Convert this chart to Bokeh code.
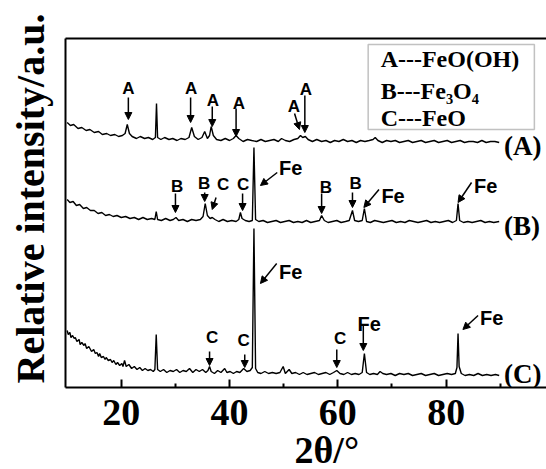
from bokeh.core.properties import value
from bokeh.embed import file_html
from bokeh.models import (Arrow, BoxAnnotation, ColumnDataSource, CustomJSTickFormatter,
                          FixedTicker, Label, LinearAxis, NormalHead, Range1d, Title)
from bokeh.plotting import figure
from bokeh.resources import INLINE

# XRD patterns, (2theta, stacked relative intensity)
trace_a = [
    (10.0, 265), (10.6, 262), (11.2, 263), (12.0, 259), (12.7, 260), (13.5, 257),
    (14.2, 258), (15.0, 255), (15.8, 256), (16.5, 253), (17.3, 254), (18.0, 252),
    (18.8, 253), (19.5, 251), (20.2, 252), (20.7, 254), (21.1, 263), (21.5, 254),
    (22.0, 251), (22.8, 249), (23.5, 251), (24.3, 249), (25.0, 250), (25.8, 248),
    (26.3, 250), (26.5, 284), (26.7, 250), (27.3, 248), (28.0, 250), (28.8, 248),
    (29.5, 249), (30.3, 247), (31.0, 249), (31.8, 248), (32.5, 250), (33.0, 260),
    (33.5, 251), (34.2, 248), (34.9, 250), (35.4, 256), (35.9, 249), (36.3, 252),
    (36.6, 261), (37.0, 252), (37.6, 248), (38.4, 247), (39.2, 249), (40.0, 247),
    (40.7, 249), (41.2, 252), (41.7, 249), (42.5, 246), (43.3, 248), (44.1, 247),
    (45.0, 246), (45.8, 248), (46.6, 246), (47.4, 247), (48.2, 248), (49.0, 246),
    (49.6, 249), (50.3, 247), (51.1, 246), (51.9, 248), (52.6, 249), (53.1, 252),
    (53.5, 250), (54.0, 251), (54.5, 248), (55.3, 246), (56.1, 248), (57.0, 246),
    (57.8, 247), (58.6, 245), (59.4, 247), (60.2, 246), (61.0, 248), (61.8, 246),
    (62.6, 247), (63.4, 245), (64.2, 247), (65.0, 246), (65.8, 247), (66.5, 248),
    (66.9, 250), (67.4, 247), (68.2, 245), (69.0, 247), (69.8, 246), (70.6, 247),
    (71.4, 245), (72.2, 246), (73.0, 247), (73.8, 245), (74.6, 246), (75.4, 247),
    (76.2, 245), (77.0, 246), (77.8, 247), (78.6, 245), (79.4, 246), (80.2, 247),
    (81.0, 245), (81.8, 246), (82.6, 247), (83.4, 245), (84.2, 246), (85.0, 246),
    (85.8, 245), (86.6, 247), (87.4, 245), (88.2, 246), (89.0, 246), (89.8, 245),
]

trace_b = [
    (10.0, 188), (10.5, 185), (11.1, 186), (11.7, 182), (12.3, 183), (13.0, 179),
    (13.6, 180), (14.3, 177), (15.0, 177), (15.7, 174), (16.4, 175), (17.1, 172),
    (17.8, 173), (18.5, 171), (19.2, 172), (20.0, 170), (20.8, 171), (21.6, 169),
    (22.4, 170), (23.2, 168), (24.0, 170), (24.8, 168), (25.6, 169), (26.2, 168),
    (26.45, 176), (26.7, 168), (27.4, 167), (28.2, 169), (29.0, 167), (29.6, 168),
    (30.1, 170), (30.6, 167), (31.4, 168), (32.2, 166), (33.0, 168), (33.8, 167),
    (34.6, 168), (35.1, 171), (35.5, 184), (35.9, 172), (36.4, 169), (36.8, 170),
    (37.3, 168), (38.0, 166), (38.8, 168), (39.6, 166), (40.4, 167), (41.2, 166),
    (41.7, 168), (42.0, 175), (42.3, 169), (42.9, 167), (43.6, 166), (44.2, 167),
    (44.5, 240), (44.8, 168), (45.4, 166), (46.2, 167), (47.0, 165), (47.8, 166),
    (48.6, 167), (49.4, 165), (50.2, 166), (51.0, 167), (51.8, 165), (52.6, 166),
    (53.4, 165), (54.2, 167), (55.0, 165), (55.8, 166), (56.6, 167), (57.0, 172),
    (57.5, 167), (58.2, 165), (59.0, 166), (59.8, 167), (60.6, 165), (61.4, 166),
    (62.1, 167), (62.7, 177), (63.1, 167), (63.8, 166), (64.5, 167), (64.9, 179),
    (65.3, 166), (66.0, 165), (66.8, 167), (67.6, 166), (68.4, 165), (69.2, 166),
    (70.0, 167), (70.8, 165), (71.6, 166), (72.4, 165), (73.2, 167), (74.0, 166),
    (74.8, 165), (75.6, 166), (76.4, 167), (77.2, 165), (78.0, 166), (78.8, 165),
    (79.6, 166), (80.4, 167), (81.2, 165), (81.9, 167), (82.2, 184), (82.5, 167),
    (83.2, 165), (84.0, 166), (84.8, 165), (85.6, 166), (86.4, 167), (87.2, 165),
    (88.0, 166), (88.8, 165), (89.8, 166),
]

trace_c = [
    (10.0, 57), (10.2, 53), (10.5, 55), (10.7, 50), (11.0, 52), (11.3, 49),
    (11.5, 50), (11.8, 46), (12.2, 48), (12.4, 43), (12.7, 45), (13.1, 42),
    (13.3, 44), (13.6, 39), (14.0, 41), (14.3, 38), (14.5, 36), (14.9, 38),
    (15.2, 34), (15.5, 35), (15.8, 31), (16.0, 34), (16.3, 30), (16.7, 31),
    (17.0, 28), (17.2, 30), (17.6, 27), (18.0, 28), (18.3, 25), (18.6, 27),
    (19.0, 23), (19.3, 25), (19.7, 22), (20.1, 24), (20.3, 21), (20.6, 27),
    (20.9, 21), (21.4, 23), (21.9, 19), (22.4, 21), (22.9, 18), (23.4, 20),
    (23.9, 17), (24.4, 19), (24.9, 17), (25.4, 18), (25.9, 16), (26.2, 18),
    (26.45, 53), (26.7, 18), (27.2, 16), (27.8, 18), (28.4, 15), (29.0, 17),
    (29.6, 16), (30.2, 18), (30.8, 15), (31.4, 17), (32.0, 16), (32.6, 19),
    (33.2, 15), (33.8, 18), (34.4, 16), (35.0, 18), (35.6, 15), (36.0, 17),
    (36.3, 21), (36.6, 16), (37.2, 14), (37.8, 17), (38.4, 15), (39.1, 19),
    (39.5, 15), (40.1, 16), (40.7, 14), (41.3, 16), (41.9, 15), (42.6, 19),
    (43.2, 16), (43.8, 17), (44.2, 20), (44.5, 159), (44.8, 19), (45.2, 15),
    (45.8, 14), (46.5, 16), (47.2, 14), (47.9, 15), (48.6, 14), (49.3, 15),
    (49.9, 21), (50.3, 14), (51.0, 18), (51.5, 14), (52.2, 15), (52.9, 13),
    (53.6, 15), (54.3, 13), (55.0, 14), (55.7, 15), (56.4, 13), (57.1, 14),
    (57.8, 15), (58.5, 13), (59.2, 15), (59.8, 17), (60.4, 14), (61.1, 13),
    (61.8, 15), (62.5, 13), (63.2, 14), (63.9, 13), (64.5, 15), (64.9, 34),
    (65.3, 15), (65.9, 13), (66.6, 14), (67.3, 13), (67.8, 16), (68.3, 14),
    (69.0, 13), (69.8, 14), (70.6, 12), (71.4, 14), (72.2, 13), (73.0, 14),
    (73.8, 12), (74.6, 13), (75.4, 14), (76.2, 12), (77.0, 13), (77.8, 14),
    (78.6, 12), (79.4, 13), (80.2, 14), (81.0, 13), (81.7, 14), (82.0, 20),
    (82.2, 54), (82.4, 21), (82.8, 14), (83.5, 12), (84.3, 13), (85.1, 12),
    (85.9, 14), (86.7, 12), (87.5, 13), (88.3, 12), (89.1, 13), (89.8, 12),
]

sample_names = ["(A)", "(B)", "(C)"]
sample_label_y = [242, 162, 14]

x_ticks = [20, 40, 60, 80]
x_minor_ticks = [30, 50, 70, 90]

# phase markers: letter, position of the letter, arrow start -> arrow tip
phase_text = ["A", "A", "A", "A", "A", "A",
              "B", "B", "C", "C", "B", "B",
              "C", "C", "C"]
phase_x = [21.3, 32.9, 36.9, 41.7, 51.9, 54.1,
           30.3, 35.3, 38.8, 42.5, 57.8, 63.3,
           36.8, 42.6, 60.4]
phase_y = [299, 299, 287, 284, 281, 298,
           201, 204, 203, 203, 200, 204,
           50, 47, 49]

fe_x = [51.3, 70.2, 87.3, 51.3, 65.8, 88.4]
fe_y = [220, 192, 202, 116, 64, 70]

arrow_x0 = [21.3, 32.8, 36.8, 41.2, 52.0, 53.9,
            30.0, 35.4, 37.5, 42.4, 48.8, 57.0, 62.7, 67.6, 84.7,
            36.3, 42.8, 48.7, 59.8, 64.7, 85.9]
arrow_y0 = [290, 290, 281, 279, 274, 292,
            194, 195, 190, 194, 215, 194, 195, 198, 205,
            36, 33, 124, 38, 62, 72]
arrow_x1 = [21.3, 32.8, 36.8, 41.2, 52.9, 53.9,
            30.0, 35.4, 36.8, 42.4, 45.7, 57.0, 62.7, 64.8, 82.2,
            36.3, 42.8, 45.7, 59.8, 64.7, 83.1]
arrow_y1 = [268, 265, 261, 251, 258, 255,
            175, 186, 178, 177, 202, 174, 180, 180, 185,
            22, 20, 104, 20, 37, 58]

legend_lines = ["A---FeO(OH)", "B---Fe\u2083O\u2084", "C---FeO"]
legend_y = [329, 297, 270]

SERIF = "Liberation Serif"
SANS = "Liberation Sans"

p = figure(width=546, height=469, output_backend="svg", toolbar_location=None,
           x_range=Range1d(9.69, 98.54), y_range=Range1d(0, 349),
           min_border_left=65, min_border_right=0,
           min_border_top=38, min_border_bottom=82)
p.outline_line_color = None
p.grid.visible = False
p.background_fill_color = "white"
p.border_fill_color = "white"

xa = p.xaxis[0]
xa.ticker = FixedTicker(ticks=x_ticks, minor_ticks=x_minor_ticks)
xa.axis_line_width = 2
xa.major_tick_line_width = 2
xa.minor_tick_line_width = 2
xa.major_tick_in = 8
xa.major_tick_out = 0
xa.minor_tick_in = 4
xa.minor_tick_out = 0
xa.major_label_standoff = 12
xa.major_label_text_font = SERIF
xa.major_label_text_font_style = "bold"
xa.major_label_text_font_size = "38px"
xa.major_label_text_color = "black"
# blank axis label, used only as spacing below the tick labels
xa.axis_label = "\u00a0"
xa.axis_label_text_font_size = "1px"
xa.axis_label_standoff = -3

# left spine: one hidden tick whose outward length keeps the title clear of the frame
ya = p.yaxis[0]
ya.ticker = FixedTicker(ticks=[0])
ya.formatter = CustomJSTickFormatter(code="return ''")
ya.axis_line_width = 2
ya.major_tick_in = 0
ya.major_tick_out = 13
ya.minor_tick_out = 0
ya.major_label_standoff = 0
ya.major_tick_line_color = None
ya.minor_tick_line_color = None

top = LinearAxis(ticker=FixedTicker(ticks=[]), axis_line_width=2,
                 major_tick_out=0, minor_tick_out=0, major_label_standoff=0,
                 major_tick_line_color=None, minor_tick_line_color=None)
p.add_layout(top, "above")

# axis titles
p.add_layout(Title(text="Relative intensity/a.u.", align="left", offset=4,
                   vertical_align="bottom", standoff=0,
                   text_font=SERIF, text_font_style="bold",
                   text_font_size="40px", text_color="black"), "left")
p.add_layout(Title(text="2\u03b8/\u00b0", align="left", offset=229,
                   vertical_align="bottom", standoff=-4,
                   text_font=SERIF, text_font_style="bold",
                   text_font_size="38px", text_color="black"), "below")

for trace in (trace_a, trace_b, trace_c):
    xs = [pt[0] for pt in trace]
    ys = [pt[1] for pt in trace]
    p.line(xs, ys, line_color="black", line_width=1.4)

# sample tags on the right
for name, yv in zip(sample_names, sample_label_y):
    p.add_layout(Label(x=90.7, y=yv, text=name, text_font=SERIF,
                       text_font_style="bold", text_font_size="27px",
                       text_align="left", text_baseline="middle",
                       text_color="black"))

# phase letters and Fe markers
p.text(x=phase_x, y=phase_y, text=phase_text, text_font=value(SANS),
       text_font_style="bold", text_font_size="17px", text_align="center",
       text_baseline="middle", text_color="black")
p.text(x=fe_x, y=fe_y, text=["Fe"] * len(fe_x), text_font=value(SANS),
       text_font_style="bold", text_font_size="20px", text_align="center",
       text_baseline="middle", text_color="black")

arrows = ColumnDataSource(dict(x0=arrow_x0, y0=arrow_y0, x1=arrow_x1, y1=arrow_y1))
p.add_layout(Arrow(source=arrows, x_start="x0", y_start="y0", x_end="x1", y_end="y1",
                   line_width=1.5, line_color="black",
                   end=NormalHead(size=7, fill_color="black", line_color="black",
                                  line_width=1)))

# phase key
p.add_layout(BoxAnnotation(left=65.6, right=96.3, top=343, bottom=258,
                           fill_alpha=0, line_color="#333333", line_width=1.5))
for txt, yv in zip(legend_lines, legend_y):
    p.add_layout(Label(x=67.9, y=yv, text=txt, text_font=SERIF,
                       text_font_style="bold", text_font_size="24px",
                       text_align="left", text_baseline="middle",
                       text_color="black"))

open("out.html", "w").write(file_html(p, INLINE))
